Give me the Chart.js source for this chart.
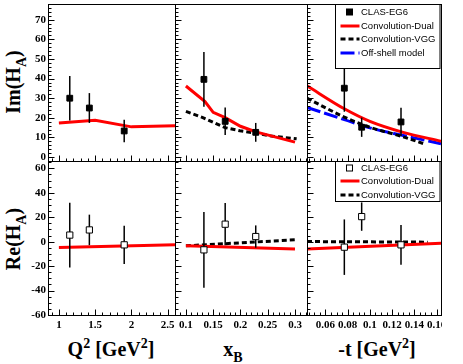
<!DOCTYPE html>
<html>
<head>
<meta charset="utf-8">
<title>Im(H_A) and Re(H_A)</title>
<script src="https://cdn.jsdelivr.net/npm/chart.js@4.4.1/dist/chart.umd.min.js"></script>
<style>
  html, body { margin: 0; padding: 0; background: #fff; }
  body { position: relative; width: 463px; height: 364px; overflow: hidden; }
  .box { position: absolute; overflow: hidden; }
  .box canvas { position: absolute; left: 0; top: 0; }
  .title { position: absolute; font: bold 20px "Liberation Serif", "DejaVu Serif", serif; line-height: 20px; white-space: nowrap; color: #000; }
  .xt { top: 339px; transform: translateX(-50%); }
  .yt { transform: translate(-50%, -50%) rotate(-90deg); }
  .sup, .sub { font-size: 0.7em; position: relative; }
  .sup { top: -0.55em; }
  .sub { top: 0.4em; }
</style>
</head>
<body>
<div class="title yt" style="left:14px; top:82px">Im(H<span class="sub">A</span>)</div>
<div class="title yt" style="left:14px; top:239px">Re(H<span class="sub">A</span>)</div>
<div class="title xt" style="left:111px">Q<span class="sup">2</span> [GeV<span class="sup">2</span>]</div>
<div class="title xt" style="left:233px">x<span class="sub">B</span></div>
<div class="title xt" style="left:377px">-t [GeV<span class="sup">2</span>]</div>

<script>
// axis ranges and tick labels
const q2Range = [0.85, 2.6];
const xbRange = [0.08, 0.322];
const tRange = [0.0434, 0.164];
const imRange = [-2, 78];
const reRange = [-60, 66];

const q2Ticks = [1, 1.5, 2, 2.5];
const xbTicks = [0.1, 0.15, 0.2, 0.25, 0.3];
const tTicks = [0.06, 0.08, 0.1, 0.12, 0.14, 0.16];
const imTicks = [0, 10, 20, 30, 40, 50, 60, 70];
const reTicks = [-60, -40, -20, 0, 20, 40, 60];

// CLAS-EG6 points (value and error)
const q2Data = [1.15, 1.42, 1.90];
const imQ2 = [30.0, 25.0, 13.3];
const imQ2Err = [11.3, 7.6, 5.7];
const reQ2 = [5.4, 9.6, -2.6];
const reQ2Err = [26.5, 12.5, 15.6];

const xbData = [0.133, 0.172, 0.228];
const imXb = [39.6, 18.2, 12.6];
const imXbErr = [14.0, 7.0, 4.8];
const reXb = [-6.7, 14.3, 4.2];
const reXbErr = [31.0, 17.3, 9.1];

const tData = [0.077, 0.0926, 0.128];
const imT = [35.1, 15.2, 17.9];
const imTErr = [12.0, 4.9, 7.2];
const reT = [-4.5, 20.5, -2.6];
const reTErr = [22.7, 11.6, 16.2];

// model curves
const q2Im = [1.0, 1.5, 2.0, 2.3, 2.6];
const q2ImDual = [17.4, 18.7, 15.4, 15.7, 16.0];
const q2Re = [1.0, 2.6];
const q2ReDual = [-4.7, -2.6];

const xbImDualX = [0.1, 0.135, 0.15, 0.172, 0.2, 0.23, 0.3];
const xbImDual = [36.2, 28.3, 22.8, 20.1, 15.7, 12.7, 7.6];
const xbImVggX = [0.1, 0.131, 0.172, 0.199, 0.23, 0.254, 0.303];
const xbImVgg = [23.3, 20.1, 15.0, 13.4, 12.1, 10.8, 9.3];
const xbRe = [0.1, 0.3];
const xbReDual = [-3.4, -6.1];
const xbReVgg = [-3.4, 1.5];

const tIm = [0.0434, 0.077, 0.1, 0.13, 0.164];
const tImDual = [36.3, 24.6, 18.2, 12.6, 8.1];
const tImVggX = [0.0434, 0.077, 0.1, 0.13, 0.148];
const tImVgg = [30.0, 20.4, 15.2, 10.3, 6.9];
const tImOff = [25.3, 19.1, 14.9, 11.0, 6.8];
const tRe = [0.0434, 0.164];
const tReDual = [-6.1, -1.2];
const tReVggX = [0.0434, 0.152];
const tReVgg = [0.1, -0.4];

const dual = {label: 'Convolution-Dual', borderColor: '#ff0000', borderWidth: 3};
const vgg = {label: 'Convolution-VGG', borderColor: '#000000', borderWidth: 3, borderDash: [5, 3]};
const offShell = {label: 'Off-shell model', borderColor: '#0000ff', borderWidth: 3, borderDash: [14, 4]};
const tickFont = {family: '"Liberation Serif", "DejaVu Serif", serif', size: 11, weight: 'bold'};

const cols = [{left: 48, w: 127}, {left: 175, w: 132}, {left: 307, w: 134}];
const rows = [{top: 4, h: 157}, {top: 161, h: 154}];

function pts(xs, ys) {
  return xs.map((x, i) => ({x: x, y: ys[i]}));
}

function clasSet(xs, ys, open) {
  return {
    label: 'CLAS-EG6', data: pts(xs, ys), showLine: false, order: 0,
    pointStyle: 'rect', pointRadius: open ? 4.4 : 4.1,
    backgroundColor: open ? '#ffffff' : '#000000', borderColor: '#000000', borderWidth: 1
  };
}

function curve(style, xs, ys, smooth) {
  return Object.assign({
    data: pts(xs, ys), pointRadius: 0, order: 1, fill: false,
    cubicInterpolationMode: smooth ? 'monotone' : 'default'
  }, style);
}

function minorList(range, majors, step) {
  const out = [];
  for (let v = majors[0]; v >= range[0] - 1e-9; v -= step) out.push(v);
  for (let v = majors[0] + step; v <= range[1] + 1e-9; v += step) out.push(v);
  return out;
}

function axisOpts(range, ticks, show, which) {
  return {
    type: 'linear', min: range[0], max: range[1], display: show,
    grid: {display: false, drawTicks: false},
    border: {display: false},
    ticks: {
      font: tickFont, color: '#000', padding: which === 'x' ? 4 : 2,
      autoSkip: false, maxRotation: 0, callback: v => String(v)
    },
    afterBuildTicks: s => { s.ticks = ticks.map(v => ({value: v})); },
    afterFit: s => {
      if (!show) return;
      if (which === 'x') s.height = 24; else s.width = 48;
    }
  };
}

function drawLegend(chart, lg) {
  const {ctx, chartArea: a} = chart;
  const x0 = Math.round(a.left) + lg.dx + 0.5;
  const y0 = Math.round(a.top) + 0.5;
  const w = Math.round(a.right) - 1 - x0;
  ctx.save();
  ctx.fillStyle = '#fff';
  ctx.fillRect(x0, y0, w, lg.h);
  ctx.strokeStyle = '#000';
  ctx.lineWidth = 1;
  ctx.strokeRect(x0, y0, w, lg.h);
  ctx.font = '9.5px "Liberation Sans", Arial, sans-serif';
  ctx.textBaseline = 'middle';
  chart.data.datasets.forEach((ds, i) => {
    const yy = Math.round(y0 + lg.first + i * lg.gap);
    if (ds.showLine === false) {
      ctx.fillStyle = ds.backgroundColor;
      ctx.fillRect(x0 + 11, yy - 3, 6, 6);
      ctx.setLineDash([]);
      ctx.lineWidth = 1;
      ctx.strokeStyle = '#000';
      ctx.strokeRect(x0 + 11, yy - 3, 6, 6);
    } else {
      ctx.beginPath();
      ctx.setLineDash(ds.borderDash || []);
      ctx.lineWidth = ds.borderWidth;
      ctx.strokeStyle = ds.borderColor;
      ctx.moveTo(x0 + 5, yy);
      ctx.lineTo(x0 + 24, yy);
      ctx.stroke();
    }
    ctx.fillStyle = '#000';
    ctx.fillText(ds.label, x0 + 25.5, yy);
  });
  ctx.restore();
}

// ROOT-like frame: inward ticks, error bars, border, legend
function rootPad(c) {
  return {
    id: 'rootPad',
    beforeDatasetDraw(chart, args) {
      if (args.index !== 0) return;
      const {ctx, scales: {x, y}} = chart;
      ctx.save();
      ctx.strokeStyle = '#000';
      ctx.lineWidth = 1.5;
      chart.data.datasets[0].data.forEach((p, i) => {
        const px = x.getPixelForValue(p.x);
        ctx.beginPath();
        ctx.moveTo(px, y.getPixelForValue(p.y - c.err[i]));
        ctx.lineTo(px, y.getPixelForValue(p.y + c.err[i]));
        ctx.stroke();
      });
      ctx.restore();
    },
    afterDatasetsDraw(chart) {
      const {ctx, chartArea: a, scales: {x, y}} = chart;
      const r = v => Math.round(v) + 0.5;
      const bot = r(a.bottom), left = r(a.left);
      ctx.save();
      ctx.strokeStyle = '#000';
      ctx.lineWidth = 1;
      ctx.beginPath();
      const tx = (v, len) => { const p = r(x.getPixelForValue(v)); ctx.moveTo(p, bot); ctx.lineTo(p, bot - len); };
      const ty = (v, len) => { const p = r(y.getPixelForValue(v)); ctx.moveTo(left, p); ctx.lineTo(left + len, p); };
      minorList(c.x, c.xTicks, c.xMinor).forEach(v => tx(v, 3));
      c.xTicks.forEach(v => tx(v, 6));
      minorList(c.y, c.yTicks, c.yMinor).forEach(v => ty(v, 3));
      c.yTicks.forEach(v => ty(v, 6));
      ctx.stroke();
      ctx.strokeRect(left, r(a.top), r(a.right) - left, bot - r(a.top));
      ctx.restore();
      if (c.legend) drawLegend(chart, c.legend);
    }
  };
}

function makePanel(c) {
  const col = cols[c.col], row = rows[c.row];
  const showY = c.col === 0, showX = c.row === 1;
  const extL = showY ? 48 : 12, extR = 16, extT = 12, extB = showX ? 24 : 12;
  const W = extL + col.w + extR, H = extT + row.h + extB;
  const box = document.createElement('div');
  box.className = 'box';
  box.style.left = (col.left - extL) + 'px';
  box.style.top = (row.top - extT) + 'px';
  box.style.width = (c.clipAt ? c.clipAt - (col.left - extL) : W) + 'px';
  box.style.height = H + 'px';
  const cv = document.createElement('canvas');
  cv.width = W;
  cv.height = H;
  box.appendChild(cv);
  document.body.appendChild(box);

  return new Chart(cv, {
    type: 'line',
    data: {datasets: c.datasets},
    options: {
      responsive: false,
      animation: false,
      events: [],
      layout: {padding: {left: showY ? 0 : extL, right: extR, top: extT, bottom: showX ? 0 : extB}},
      plugins: {legend: {display: false}, tooltip: {enabled: false}},
      scales: {
        x: axisOpts(c.x, c.xTicks, showX, 'x'),
        y: axisOpts(c.y, c.yTicks, showY, 'y')
      }
    },
    plugins: [rootPad(c)]
  });
}

makePanel({col: 0, row: 0, x: q2Range, y: imRange, xTicks: q2Ticks, yTicks: imTicks, xMinor: 0.1, yMinor: 2,
  err: imQ2Err, datasets: [clasSet(q2Data, imQ2, false), curve(dual, q2Im, q2ImDual)]});

makePanel({col: 1, row: 0, x: xbRange, y: imRange, xTicks: xbTicks, yTicks: imTicks, xMinor: 0.01, yMinor: 2,
  err: imXbErr, datasets: [clasSet(xbData, imXb, false), curve(dual, xbImDualX, xbImDual), curve(vgg, xbImVggX, xbImVgg)]});

makePanel({col: 2, row: 0, x: tRange, y: imRange, xTicks: tTicks, yTicks: imTicks, xMinor: 0.005, yMinor: 2,
  err: imTErr, legend: {dx: 28, h: 64, first: 7.5, gap: 13.5},
  datasets: [clasSet(tData, imT, false), curve(dual, tIm, tImDual, true), curve(vgg, tImVggX, tImVgg, true),
    curve(offShell, tIm, tImOff, true)]});

makePanel({col: 0, row: 1, x: q2Range, y: reRange, xTicks: q2Ticks, yTicks: reTicks, xMinor: 0.1, yMinor: 5,
  err: reQ2Err, datasets: [clasSet(q2Data, reQ2, true), curve(dual, q2Re, q2ReDual)]});

makePanel({col: 1, row: 1, x: xbRange, y: reRange, xTicks: xbTicks, yTicks: reTicks, xMinor: 0.01, yMinor: 5,
  err: reXbErr, datasets: [clasSet(xbData, reXb, true), curve(dual, xbRe, xbReDual), curve(vgg, xbRe, xbReVgg)]});

makePanel({col: 2, row: 1, x: tRange, y: reRange, xTicks: tTicks, yTicks: reTicks, xMinor: 0.005, yMinor: 5,
  err: reTErr, clipAt: 442, legend: {dx: 28, h: 40, first: 6.5, gap: 13.4},
  datasets: [clasSet(tData, reT, true), curve(dual, tRe, tReDual), curve(vgg, tReVggX, tReVgg)]});
</script>
</body>
</html>
